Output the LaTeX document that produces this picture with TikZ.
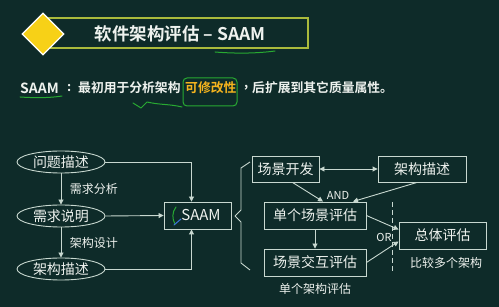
\documentclass[tikz,border=0pt]{standalone}
\usepackage{fontspec}
\setmainfont{Noto Sans CJK SC}
\newfontfamily\cjk{Noto Sans CJK SC}
\newfontfamily\cjkb{Noto Sans CJK SC Bold}
\usetikzlibrary{shapes.geometric,arrows.meta,calc}
\definecolor{bg}{RGB}{14,43,41}
\definecolor{ln}{RGB}{200,216,208}
\definecolor{tx}{RGB}{238,242,238}
\definecolor{olive}{RGB}{170,186,60}
\definecolor{yel}{RGB}{247,209,23}
\definecolor{org}{RGB}{245,180,30}
\definecolor{pen}{RGB}{40,170,50}
\definecolor{bpen}{RGB}{60,120,220}
\begin{document}
\begin{tikzpicture}[x=1pt,y=-1pt,
  ell/.style={ellipse,draw=ln,line width=0.9pt,minimum width=88pt,minimum height=22pt,inner sep=0pt,text=tx,font=\cjk\fontsize{14}{14}\selectfont},
  boxn/.style={rectangle,draw=ln,line width=0.9pt,inner sep=0pt,text=tx,font=\cjk\fontsize{14}{14}\selectfont},
  lab/.style={text=tx,font=\cjk\fontsize{12}{12}\selectfont,inner sep=0pt},
  sub/.style={anchor=west,text=tx,font=\cjkb\fontsize{12.8}{13}\selectfont,inner sep=0pt},
  con/.style={draw=ln,line width=0.9pt,-{Triangle[length=5pt,width=5pt]}},
  pencil/.style={draw=pen,line width=1pt,line cap=round,line join=round}]
\fill[bg] (0,0) rectangle (499,307);
\useasboundingbox (0,0) rectangle (499,307);
% title
\draw[olive,line width=1.3pt] (47,18) rectangle (308,48);
\node[diamond,fill=yel,draw=white,line width=1.2pt,minimum width=42pt,minimum height=42pt,inner sep=0pt] (dia) at (43,34) {};
\node[text=tx,font=\cjkb\fontsize{17.5}{18}\selectfont,inner sep=0pt] (title) at (180,34) {软件架构评估 – SAAM};
% subtitle
\node[sub,font=\cjkb\fontsize{14}{14}\selectfont] (s1) at (20,88) {SAAM};
\node[sub] (s2) at (67,88) {:};
\node[sub] (s3) at (78,88) {最初用于分析架构};
\node[sub,text=org] (s4) at (185,88) {可修改性};
\node[sub] (s5) at (244,88) {,};
\node[sub] (s6) at (252,88) {后扩展到其它质量属性。};
% hand annotations
\draw[pencil] (215,52) .. controls (240,54) and (260,53) .. (275,51);
\draw[pencil] (20,97) .. controls (35,98) and (50,98) .. (62,96);
\draw[pencil] (133,103) -- (141,108) -- (147,102) .. controls (160,105) and (170,104) .. (182,107);
\draw[pencil,rounded corners=4pt] (183,78) rectangle (237,106);
% left part
\node[ell] (q) at (61,162) {问题描述};
\node[ell] (r) at (61,216) {需求说明};
\node[ell] (a) at (61,269) {架构描述};
\node[boxn,minimum width=67pt,minimum height=27pt] (saam) at (197.5,215.5) {};
\node[text=tx,font=\cjk\fontsize{15}{15}\selectfont,inner sep=0pt] (saamt) at (201,215.5) {SAAM};
\draw[pencil] (176,207) .. controls (172,212) and (172,219) .. (175,224);
\draw[draw=bpen,line width=1pt,line cap=round] (174,225) -- (181,219);
\node[lab] (l1) at (94,189) {需求分析};
\node[lab] (l2) at (94,243) {架构设计};
\draw[con] (q) -- (r);
\draw[con] (r) -- (a);
\draw[con] (q.east) -| ([xshift=-6pt]saam.north);
\draw[con] (r.east) -- (saam.west);
\draw[con] (a.east) -| ([xshift=-6pt]saam.south);
% brace
\draw[ln,line width=0.9pt,line join=round] (250,162) -- (241,168) -- (241,210) -- (235,216) -- (241,222) -- (241,263) -- (250,270);
% right part
\node[boxn,minimum width=67pt,minimum height=26pt] (dev) at (285.5,169) {场景开发};
\node[boxn,minimum width=88pt,minimum height=26pt] (arch) at (422,169) {架构描述};
\node[boxn,minimum width=102pt,minimum height=27pt] (single) at (315,215.5) {单个场景评估};
\node[boxn,minimum width=102pt,minimum height=27pt] (inter) at (315,262.5) {场景交互评估};
\node[boxn,minimum width=87pt,minimum height=27pt] (tot) at (442.5,235.5) {总体评估};
\draw[draw=ln,line width=0.9pt,{Triangle[length=5pt,width=5pt]}-{Triangle[length=5pt,width=5pt]}] (dev.east) -- (arch.west);
\draw[con] ([xshift=7pt]dev.south) -- ([xshift=8pt]single.north);
\draw[con] ([xshift=-5pt]arch.south) -- ([xshift=38pt]single.north);
\draw[con] (single) -- (inter);
\draw[con] (single.east) -- ([yshift=6pt]tot.west);
\draw[con] (inter.east) -- ([yshift=-6pt]tot.west);
\coordinate (d1) at (392,202);
\coordinate (d2) at (392,273);
\draw[ln,line width=0.9pt,dash pattern=on 5pt off 3pt] (d1) -- (d2);
\node[text=tx,font=\cjk\fontsize{11}{11}\selectfont,inner sep=0pt] (and) at (338,195) {AND};
\node[text=tx,font=\cjk\fontsize{11}{11}\selectfont,inner sep=0pt] (or) at (384,237) {OR};
\node[lab] (cmp) at (446,263) {比较多个架构};
\node[lab] (one) at (315,289) {单个架构评估};
\end{tikzpicture}
\end{document}
